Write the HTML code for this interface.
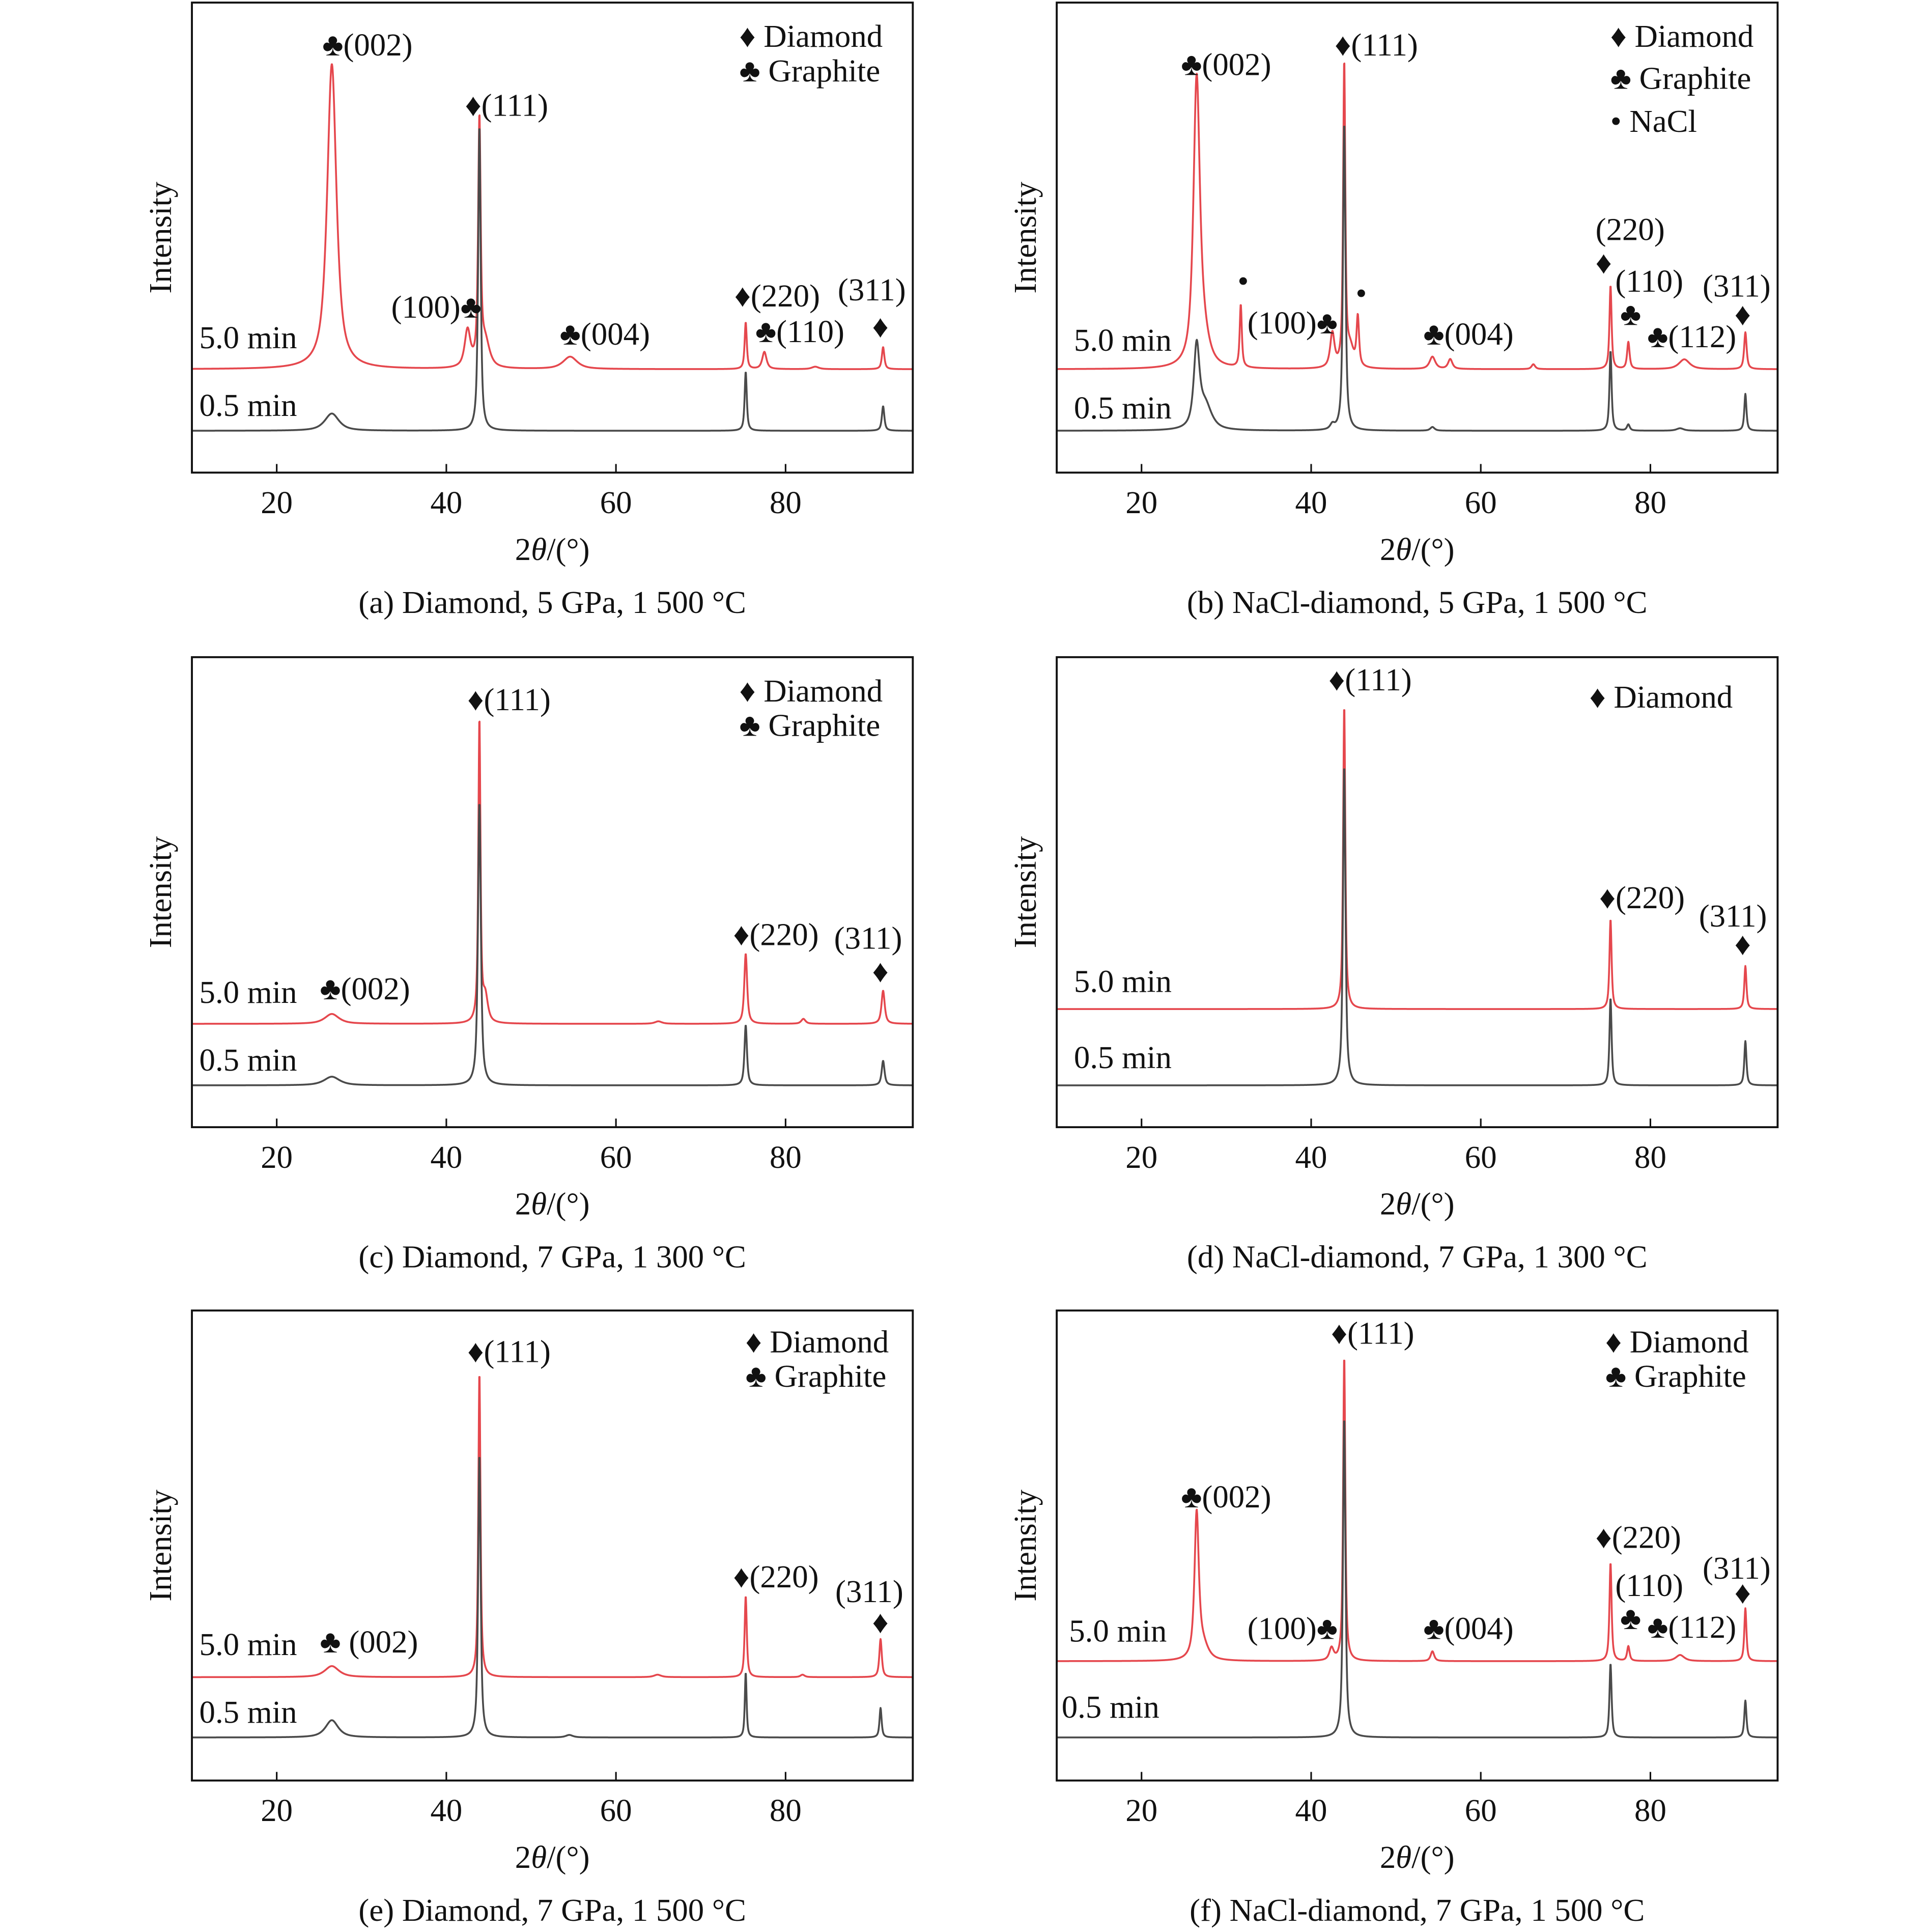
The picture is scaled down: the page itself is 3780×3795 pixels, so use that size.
<!DOCTYPE html>
<html><head><meta charset="utf-8">
<style>
html,body{margin:0;padding:0;background:#fff;}
svg{display:block;}
text{font-family:"Liberation Serif","DejaVu Serif",serif;fill:#111;}
</style></head>
<body>
<svg id="fig" xmlns="http://www.w3.org/2000/svg" width="3780" height="3795" viewBox="0 0 1564 1570"></svg>
<script>
// Peak data: [2theta position, height (a.u.), FWHM (deg)]
const aRed = [[26.5,248,1.3],[42.5,30,0.8],[43.9,198,0.35],[44.6,20,1.2],[54.6,10,2.0],[75.3,38,0.3],[77.5,14,0.6],[83.5,2,1],[91.5,18,0.35]];
const aGray = [[26.5,14,2.0],[43.9,248,0.35],[75.3,48,0.3],[91.5,20,0.35]];
const bRed = [[26.5,231,0.9],[27.3,20,1.5],[31.7,51,0.3],[42.5,28,0.6],[43.9,246,0.3],[44.6,15,1.0],[45.5,40,0.35],[54.3,10,0.8],[56.4,8,0.6],[66.2,4,0.5],[75.3,68,0.3],[77.4,22,0.35],[84,8,1.5],[91.2,30,0.35]];
const bGray = [[26.5,65,0.8],[27.5,20,1.8],[42.5,4,0.6],[43.9,250,0.35],[54.3,3,0.6],[75.3,65,0.3],[77.4,5,0.4],[83.5,2,1],[91.2,30,0.3]];
const cRed = [[26.5,8,2.0],[43.9,246,0.3],[44.6,20,0.7],[65,2,1],[75.3,57,0.4],[82.1,4,0.6],[91.5,27,0.45]];
const cGray = [[26.5,7,2.2],[43.9,230,0.4],[75.3,49,0.35],[91.5,20,0.4]];
const dRed = [[43.9,247,0.3],[75.3,73,0.3],[91.2,35,0.3]];
const dGray = [[43.9,260,0.35],[75.3,71,0.3],[91.2,36,0.3]];
const eRed = [[26.5,9,2.0],[43.9,248,0.3],[64.9,2,1],[75.3,66,0.3],[82,2,0.6],[91.2,31,0.35]];
const eGray = [[26.5,14,1.8],[43.9,230,0.35],[54.5,2,1],[75.3,53,0.25],[91.2,24,0.3]];
const fRed = [[26.5,117,0.6],[27.2,12,1.5],[42.4,10,0.6],[43.9,248,0.3],[54.3,8,0.5],[75.3,80,0.3],[77.4,12,0.35],[83.5,5,1.2],[91.2,43,0.3]];
const fGray = [[43.9,260,0.35],[75.3,60,0.3],[91.2,30,0.3]];
const xTicks = [20,40,60,80];

const NS="http://www.w3.org/2000/svg";
const svg=document.getElementById('fig');
function mk(tag,attrs,parent){const e=document.createElementNS(NS,tag);for(const k in attrs)e.setAttribute(k,attrs[k]);(parent||svg).appendChild(e);return e;}

const X0=10,X1=95,PW=586,PH=382,FS=26;
function xs(v){return (v-X0)/(X1-X0)*PW;}
function curve(peaks,x){let s=0;for(const p of peaks){const d=(x-p[0])/(p[2]/2);s+=p[1]*(0.8/(1+d*d)+0.2*Math.exp(-0.693*d*d));}return s;}

const panels=[
 {id:'a',ox:156,oy:2,red:aRed,gray:aGray,rb:298,gb:348,cap:'(a) Diamond, 5 GPa, 1 500 °C',
  l5:[6,281],l05:[6,336],leg:[[445,36,'♦ Diamond'],[445,64,'♣ Graphite']],
  ann:[[106,43,'♣(002)'],[222,92,'♦(111)'],[162,256,'(100)♣'],[299,278,'♣(004)'],[441,247,'♦(220)'],[525,242,'(311)'],[458,276,'♣(110)'],[553,272,'♦']]},
 {id:'b',ox:859,oy:2,red:bRed,gray:bGray,rb:298,gb:348,cap:'(b) NaCl-diamond, 5 GPa, 1 500 °C',
  l5:[14,283],l05:[14,338],leg:[[450,36,'♦ Diamond'],[450,70,'♣ Graphite'],[450,105,'• NaCl']],
  ann:[[101,59,'♣(002)'],[226,43,'♦(111)'],[147,235,'•'],[155,269,'(100)♣'],[243,245,'•'],[298,278,'♣(004)'],[438,193,'(220)'],[438,220,'♦'],[454,235,'(110)'],[458,262,'♣'],[525,239,'(311)'],[551,262,'♦'],[480,280,'♣(112)']]},
 {id:'c',ox:156,oy:534,red:cRed,gray:cGray,rb:298,gb:348,cap:'(c) Diamond, 7 GPa, 1 300 °C',
  l5:[6,281],l05:[6,336],leg:[[445,36,'♦ Diamond'],[445,64,'♣ Graphite']],
  ann:[[104,278,'♣(002)'],[224,43,'♦(111)'],[440,234,'♦(220)'],[522,237,'(311)'],[553,264,'♦']]},
 {id:'d',ox:859,oy:534,red:dRed,gray:dGray,rb:286,gb:348,cap:'(d) NaCl-diamond, 7 GPa, 1 300 °C',
  l5:[14,272],l05:[14,334],leg:[[433,41,'♦ Diamond']],
  ann:[[221,27,'♦(111)'],[441,204,'♦(220)'],[522,219,'(311)'],[551,242,'♦']]},
 {id:'e',ox:156,oy:1065,red:eRed,gray:eGray,rb:298,gb:347,cap:'(e) Diamond, 7 GPa, 1 500 °C',
  l5:[6,280],l05:[6,335],leg:[[450,34,'♦ Diamond'],[450,62,'♣ Graphite']],
  ann:[[104,278,'♣ (002)'],[224,42,'♦(111)'],[440,225,'♦(220)'],[523,237,'(311)'],[553,262,'♦']]},
 {id:'f',ox:859,oy:1065,red:fRed,gray:fGray,rb:285,gb:347,cap:'(f) NaCl-diamond, 7 GPa, 1 500 °C',
  l5:[10,269],l05:[4,331],leg:[[446,34,'♦ Diamond'],[446,62,'♣ Graphite']],
  ann:[[101,160,'♣(002)'],[223,27,'♦(111)'],[155,267,'(100)♣'],[298,267,'♣(004)'],[438,193,'♦(220)'],[454,232,'(110)'],[458,259,'♣'],[480,266,'♣(112)'],[525,218,'(311)'],[551,238,'♦']]}
];

for(const P of panels){
  const g=mk('g',{transform:`translate(${P.ox},${P.oy})`});
  
  
  function path(peaks,base,color,name){
    let d='';
    for(let x=X0;x<=X1+1e-9;x+=0.04){d+=(d?'L':'M')+xs(x).toFixed(2)+','+(base-curve(peaks,x)).toFixed(2);}
    const p=mk('path',{d:d,fill:'none',stroke:color,'stroke-width':1.5,'stroke-linejoin':'round'},g);
    
    
  }
  path(P.red,P.rb,'#e5474d','series-5min');
  path(P.gray,P.gb,'#4a4a4a','series-0.5min');
  const fr=mk('rect',{x:0,y:0,width:PW,height:PH,fill:'none',stroke:'#111','stroke-width':1.6},g);
  
  
  for(const t of xTicks){
    const tl=mk('line',{x1:xs(t),x2:xs(t),y1:PH,y2:PH-7,stroke:'#111','stroke-width':1.3},g);
    
    
    const tt=mk('text',{x:xs(t),y:PH+33,'text-anchor':'middle','font-size':FS},g);
    tt.textContent=t;
    
    
  }
  const xt=mk('text',{x:PW/2,y:PH+71,'text-anchor':'middle','font-size':FS},g);
  xt.innerHTML='2<tspan font-style="italic">θ</tspan>/(°)';
  
  
  const yt=mk('text',{transform:`translate(-17,${PH/2}) rotate(-90)`,'text-anchor':'middle','font-size':FS},g);
  yt.textContent='Intensity';
  
  
  const cp=mk('text',{x:PW/2,y:PH+114,'text-anchor':'middle','font-size':FS},g);
  cp.textContent=P.cap;
  
  
  const t5=mk('text',{x:P.l5[0],y:P.l5[1],'font-size':FS},g);
  t5.textContent='5.0 min';
  
  
  const t05=mk('text',{x:P.l05[0],y:P.l05[1],'font-size':FS},g);
  t05.textContent='0.5 min';
  
  
  for(const L of P.leg){
    const lt=mk('text',{x:L[0],y:L[1],'font-size':FS},g);
    lt.textContent=L[2];
    
    
  }
  for(const A of P.ann){
    const at=mk('text',{x:A[0],y:A[1],'font-size':FS},g);
    at.textContent=A[2];
    
    
  }
}
</script>
</body></html>
